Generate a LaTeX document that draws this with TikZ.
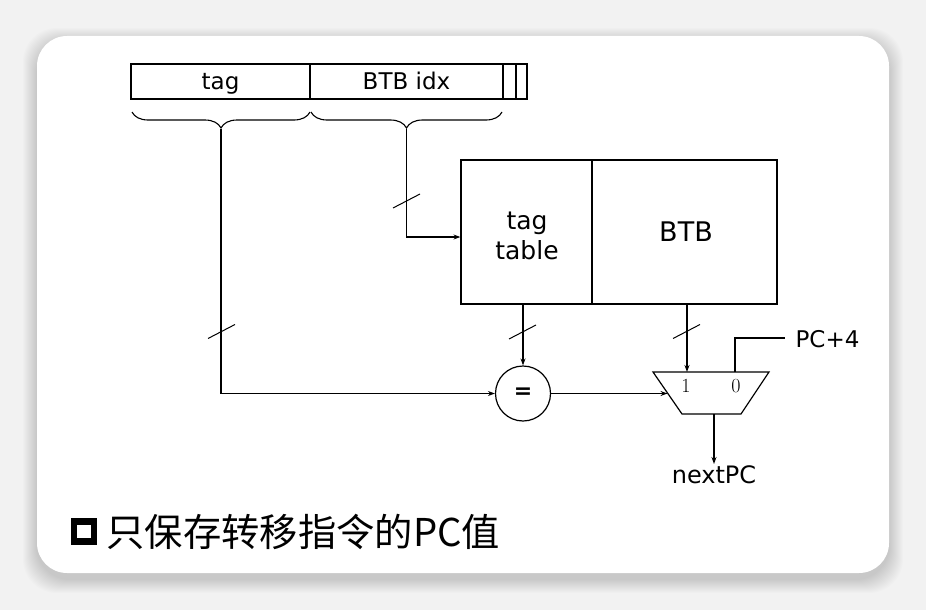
\documentclass[tikz,border=0pt]{standalone}
\usepackage{fontspec}
\setmainfont{DejaVu Sans}
\newfontfamily\cjk{Noto Sans CJK SC}
\newfontfamily\lmr{Latin Modern Roman}
\usetikzlibrary{arrows.meta,decorations.pathreplacing,calc}
\definecolor{bggray}{HTML}{F2F2F2}
\begin{document}
\begin{tikzpicture}[x=1pt,y=-1pt,line width=1.2pt,
  field/.style={draw,line width=1.2pt,minimum height=35pt,inner sep=0pt,text height=19pt,text depth=3pt,font=\fontsize{23}{25}\selectfont},
  tbl/.style={draw,line width=1.2pt,minimum height=144pt,inner sep=0pt},
  tbltext/.style={align=center,inner sep=0pt,font=\fontsize{25}{30}\selectfont},
  arr/.style={-{Stealth[length=7pt,width=5pt]}},
  slash/.style={line width=1pt},
  brc/.style={decorate,decoration={brace,mirror,amplitude=16pt},line width=1.1pt},
  lbl/.style={font=\fontsize{23}{26}\selectfont,inner sep=1pt},
  muxlbl/.style={font=\lmr\fontsize{20}{22}\selectfont,inner sep=0pt}]
\useasboundingbox (0,0) rectangle (926,610);
\fill[bggray] (0,0) rectangle (926,610);
% shadow
\foreach \i in {1,...,14}{
  \fill[black,opacity=0.013,rounded corners=34pt] ($(37,36)+(-\i,-\i+6)$) rectangle ($(889,573)+(\i,\i+6)$);
}
\fill[white,rounded corners=30pt] (37,36) rectangle (889,573);

% register fields
\node[field,minimum width=179pt] (tagf) at (220.5,81.5) {tag};
\node[field,minimum width=193pt] (idxf) at (406.5,81.5) {BTB idx};
\node[field,minimum width=13pt] (b1) at (509.5,81.5) {};
\node[field,minimum width=11pt] (b2) at (521.5,81.5) {};

% braces
\draw[brc] (132,112) -- (310,112);
\draw[brc] (311,112) -- (502,112);
\coordinate (tagtip) at (221,129);
\coordinate (idxtip) at (406.5,129);

% table
\node[tbl,minimum width=131pt] (tt) at (526.5,232) {};
\node[tbltext] (ttlabel) at (527,236) {tag\\table};
\node[tbl,minimum width=185pt] (btb) at (684.5,232) {};
\node[tbltext,font=\fontsize{27}{30}\selectfont] (btblabel) at (686,232) {BTB};

% comparator
\node[draw,circle,minimum size=55pt,inner sep=0pt,line width=1.2pt,font=\bfseries\fontsize{22}{24}\selectfont] (eq) at (523,393.5) {=};

% mux
\coordinate (mtl) at (653,372);
\coordinate (mtr) at (769,372);
\coordinate (mbr) at (741,414);
\coordinate (mbl) at (682,414);
\draw (mtl) -- (mtr) -- (mbr) -- (mbl) -- cycle;
\coordinate (m1) at (687,372);
\coordinate (m0) at (735,372);
\coordinate (mleft) at (667.5,393.5);
\coordinate (mout) at (714,414);
\node[muxlbl] (one) at (686,386) {1};
\node[muxlbl] (zero) at (736,386) {0};

% connectors
\draw[arr] (tagtip) |- (eq.west);
\draw[arr] (idxtip) |- ($(tt.west)+(0,5)$);
\draw[arr] (eq.north |- tt.south) -- (eq.north);
\draw[arr] (m1 |- btb.south) -- (m1);
\draw[arr] (eq.east) -- (mleft);
\node[lbl,anchor=west,inner sep=0pt] (pc4) at (795,339) {PC+4};
\coordinate (pcbend) at (735,338);
\coordinate (pcend) at (785,338);
\draw (m0) -- (pcbend) -- (pcend);
\node[lbl,font=\fontsize{24}{26}\selectfont,anchor=north] (npc) at (714,464) {nextPC};
\draw[arr] (mout) -- (npc.north);

% bus-width slashes
\draw[slash] (221.5,331.5) ++(-13.5,7) -- ++(27,-14);
\draw[slash] (522.5,332) ++(-13.5,7) -- ++(27,-14);
\draw[slash] (406.5,201) ++(-13.5,7) -- ++(27,-14);
\draw[slash] (686.5,331.5) ++(-13.5,7) -- ++(27,-14);

% caption
\node[draw,line width=6.5pt,minimum size=20pt,inner sep=0pt] (bullet) at (84,531.5) {};
\node[anchor=west,inner sep=0pt,font=\cjk\fontsize{38.3}{40}\selectfont] (caption) at (106,532) {只保存转移指令的PC值};
\end{tikzpicture}
\end{document}
